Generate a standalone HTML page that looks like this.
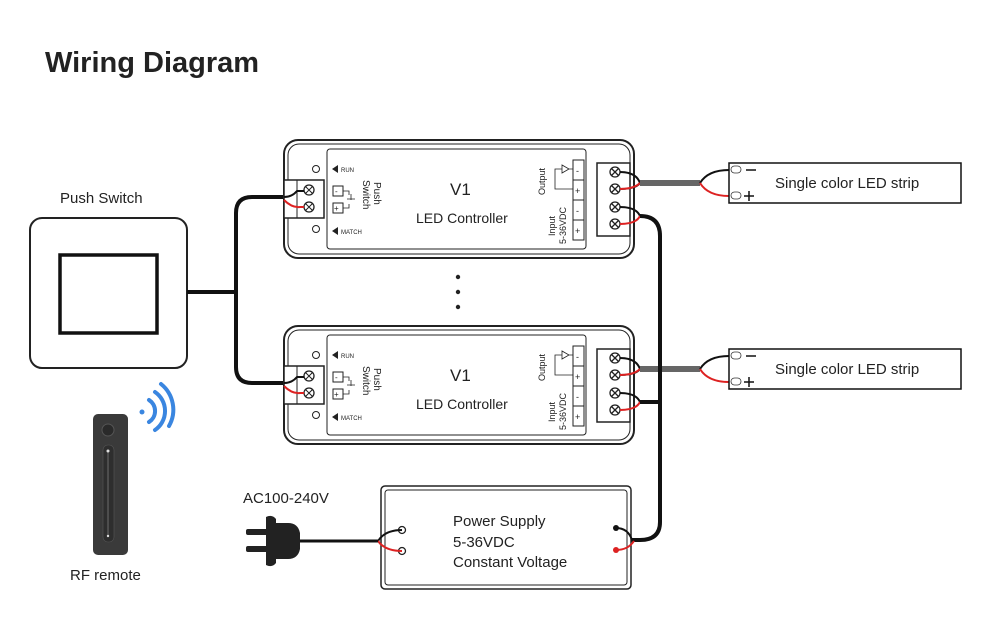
<!DOCTYPE html>
<html><head><meta charset="utf-8"><style>
body{margin:0;background:#fff}
svg{display:block}
text{font-family:"Liberation Sans",sans-serif;fill:#222}
</style></head><body>
<svg width="1000" height="640" viewBox="0 0 1000 640" xmlns="http://www.w3.org/2000/svg">
<text x="45" y="72" font-size="29" font-weight="bold" fill="#111">Wiring Diagram</text>

<!-- push switch -->
<text x="60" y="203" font-size="15">Push Switch</text>
<rect x="30" y="218" width="157" height="150" rx="12" fill="#fff" stroke="#222" stroke-width="2"/>
<rect x="60" y="255" width="97" height="78" fill="#fff" stroke="#111" stroke-width="3.5"/>

<!-- switch wires -->
<g fill="none" stroke="#111" stroke-width="4">
<path d="M187 292 H236"/>
<path d="M284 197 H252 Q236 197 236 213 V367 Q236 383 252 383 H284"/>
</g>

<!-- controllers -->
<g id="c1">
<rect x="284" y="140" width="350" height="118" rx="14" fill="#fff" stroke="#222" stroke-width="2"/>
<rect x="288" y="144" width="342" height="110" rx="11" fill="none" stroke="#222" stroke-width="1"/>
<rect x="327" y="149" width="259" height="100" rx="3" fill="none" stroke="#222" stroke-width="1"/>
<circle cx="316" cy="169" r="3.5" fill="none" stroke="#222"/>
<circle cx="316" cy="229" r="3.5" fill="none" stroke="#222"/>
<path d="M332 169 l6 -4 v8z M332 231 l6 -4 v8z" fill="#222"/>
<text x="341" y="172" font-size="6">RUN</text>
<text x="341" y="234" font-size="6">MATCH</text>
<rect x="284" y="180" width="40" height="38" fill="#fff" stroke="#222" stroke-width="1.5"/>
<line x1="297" y1="180" x2="297" y2="218" stroke="#222"/>
<circle cx="309" cy="190" r="5" fill="#fff" stroke="#222" stroke-width="1.3"/>
<path d="M305.5 186.5 l7 7 M312.5 186.5 l-7 7" stroke="#222"/>
<circle cx="309" cy="207" r="5" fill="#fff" stroke="#222" stroke-width="1.3"/>
<path d="M305.5 203.5 l7 7 M312.5 203.5 l-7 7" stroke="#222"/>
<rect x="333" y="186" width="10" height="10" fill="none" stroke="#222"/>
<rect x="333" y="203" width="10" height="10" fill="none" stroke="#222"/>
<text x="335" y="194" font-size="8">-</text><text x="334" y="211" font-size="8">+</text>
<path d="M343 191 h6 v4 M343 208 h6 v-4 M351 200 v-6 M347 199 h8" stroke="#222" fill="none" stroke-width="0.8"/>
<text transform="translate(374,182) rotate(90)" font-size="10">Push</text>
<text transform="translate(363,180) rotate(90)" font-size="10">Switch</text>
<text x="450" y="195" font-size="17" fill="#333">V1</text>
<text x="416" y="223" font-size="14" fill="#333">LED Controller</text>
<text transform="translate(545,195) rotate(-90)" font-size="9">Output</text>
<text transform="translate(555,236) rotate(-90)" font-size="9">Input</text>
<text transform="translate(566,244) rotate(-90)" font-size="9">5-36VDC</text>
<rect x="573" y="160" width="11" height="20" fill="none" stroke="#222"/>
<rect x="573" y="180" width="11" height="20" fill="none" stroke="#222"/>
<rect x="573" y="200" width="11" height="20" fill="none" stroke="#222"/>
<rect x="573" y="220" width="11" height="20" fill="none" stroke="#222"/>
<text x="576" y="174" font-size="9">-</text><text x="575" y="194" font-size="9">+</text>
<text x="576" y="214" font-size="9">-</text><text x="575" y="234" font-size="9">+</text>
<path d="M573 169 h-4 M562 169 h-7 v20 h18 M562 165 v8 l7 -4z" stroke="#222" fill="none" stroke-width="0.8"/>
<rect x="597" y="163" width="33" height="73" fill="#fff" stroke="#222" stroke-width="1.5"/>
<g stroke="#222" stroke-width="1.3" fill="#fff">
<circle cx="615" cy="172" r="5"/><circle cx="615" cy="189" r="5"/><circle cx="615" cy="207" r="5"/><circle cx="615" cy="224" r="5"/>
<path d="M611.5 168.5l7 7M618.5 168.5l-7 7M611.5 185.5l7 7M618.5 185.5l-7 7M611.5 203.5l7 7M618.5 203.5l-7 7M611.5 220.5l7 7M618.5 220.5l-7 7"/>
</g>
<path d="M284 197 Q292 197 297 191 H304" stroke="#111" stroke-width="2" fill="none"/>
<path d="M284 200 Q292 208 300 207 H304" stroke="#d22" stroke-width="2" fill="none"/>
<path d="M620 172 Q636 172 640 183 Q636 189 620 189" stroke="#111" stroke-width="2" fill="none"/>
<path d="M620 189 Q634 189 640 183" stroke="#d22" stroke-width="2" fill="none"/>
<path d="M640 183 H700" stroke="#666" stroke-width="6"/>
<path d="M700 183 Q708 170 729 170" stroke="#111" stroke-width="2" fill="none"/>
<path d="M700 183 Q708 196 729 196" stroke="#d22" stroke-width="2" fill="none"/>
<path d="M620 207 Q636 207 640 216" stroke="#111" stroke-width="2" fill="none"/>
<path d="M620 224 Q636 224 640 216" stroke="#d22" stroke-width="2" fill="none"/>
</g>
<use href="#c1" transform="translate(0,186)"/>

<circle cx="458" cy="277" r="2.2" fill="#222"/><circle cx="458" cy="292" r="2.2" fill="#222"/><circle cx="458" cy="307" r="2.2" fill="#222"/>

<path d="M640 216 Q660 216 660 236 V522 Q660 540 640 540 H628" stroke="#111" stroke-width="4" fill="none"/>
<path d="M640 402 H660" stroke="#111" stroke-width="4"/>

<g id="s1">
<rect x="729" y="163" width="232" height="40" fill="#fff" stroke="#111" stroke-width="1.5"/>
<rect x="731" y="166" width="10" height="7" rx="3.5" fill="#fff" stroke="#333" stroke-width="0.8"/>
<rect x="731" y="192" width="10" height="7" rx="3.5" fill="#fff" stroke="#333" stroke-width="0.8"/>
<path d="M746 170 h10 M744 196 h10 M749 191 v10" stroke="#111" stroke-width="1.5"/>
<text x="775" y="188" font-size="15" fill="#333">Single color LED strip</text>
</g>
<use href="#s1" transform="translate(0,186)"/>

<rect x="381" y="486" width="250" height="103" rx="4" fill="#fff" stroke="#222" stroke-width="1.5"/>
<rect x="385" y="490" width="242" height="95" rx="3" fill="none" stroke="#222" stroke-width="1"/>
<text x="453" y="526" font-size="15" fill="#333">Power Supply</text>
<text x="453" y="547" font-size="15" fill="#333">5-36VDC</text>
<text x="453" y="567" font-size="15" fill="#333">Constant Voltage</text>
<circle cx="402" cy="530" r="3.5" fill="#fff" stroke="#222" stroke-width="1.3"/>
<circle cx="402" cy="551" r="3.5" fill="#fff" stroke="#222" stroke-width="1.3"/>
<circle cx="616" cy="528" r="3" fill="#111"/>
<circle cx="616" cy="550" r="3" fill="#d22"/>
<path d="M616 528 Q628 528 632 540 L640 540" stroke="#111" stroke-width="2" fill="none"/>
<path d="M616 550 Q628 550 634 541" stroke="#d22" stroke-width="2" fill="none"/>
<path d="M402 530 Q385 530 378 541" stroke="#111" stroke-width="2" fill="none"/>
<path d="M402 551 Q385 551 378 541" stroke="#d22" stroke-width="2" fill="none"/>

<text x="243" y="503" font-size="15" fill="#333">AC100-240V</text>
<path d="M300 541 H378" stroke="#111" stroke-width="3"/>
<path d="M266 517 q6 -3 10 2 v4 h12 q10 0 12 10 v16 q-2 10 -12 10 h-12 v4 q-4 5 -10 2 z" fill="#222"/>
<rect x="246" y="529" width="22" height="6" rx="2" fill="#222"/>
<rect x="246" y="546" width="22" height="6" rx="2" fill="#222"/>

<rect x="93" y="414" width="35" height="141" rx="5" fill="#3a3a3a"/>
<circle cx="108" cy="430" r="6" fill="#2a2a2a" stroke="#555"/>
<rect x="103" y="445" width="11" height="97" rx="5" fill="#2e2e2e" stroke="#555" stroke-width="0.6"/>
<line x1="108" y1="452" x2="108" y2="535" stroke="#888" stroke-width="0.7"/>
<circle cx="108" cy="451" r="1.5" fill="#ddd"/>
<circle cx="108" cy="536" r="1.2" fill="#ddd"/>
<g fill="none" stroke="#3a86e0" stroke-width="4" stroke-linecap="round">
<circle cx="142" cy="412" r="2.5" fill="#3a86e0" stroke="none"/>
<path d="M149 400 a13 13 0 0 1 0 22"/>
<path d="M155 392 a23 23 0 0 1 0 38"/>
<path d="M161 384 a33 33 0 0 1 8 42"/>
</g>
<text x="70" y="580" font-size="15" fill="#333">RF remote</text>
</svg>
</body></html>
